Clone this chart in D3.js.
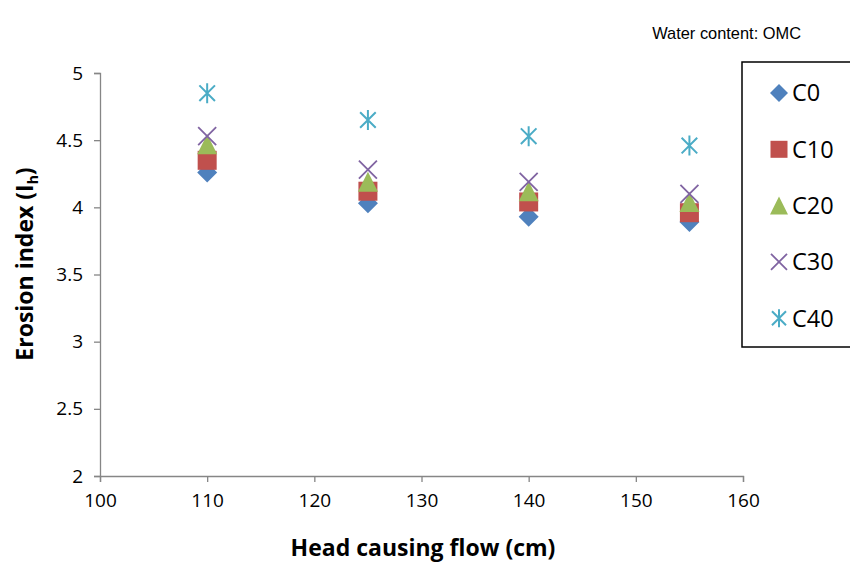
<!DOCTYPE html>
<html>
<head>
<meta charset="utf-8">
<script src="https://cdn.jsdelivr.net/npm/d3@7"></script>
<style>
  html, body { margin: 0; padding: 0; background: #fff; }
  svg { display: block; }
  .tick text { font-family: "Open Sans", sans-serif; font-size: 19px; fill: #000; }
</style>
</head>
<body>
<svg id="chart" width="850" height="563"></svg>
<script>
// Head causing flow (cm)
const heads = [110, 125, 140, 155];
// Erosion index per cement content
const c0  = [4.26, 4.03, 3.93, 3.89];
const c10 = [4.35, 4.12, 4.04, 3.96];
const c20 = [4.47, 4.19, 4.12, 4.04];
const c30 = [4.53, 4.28, 4.19, 4.10];
const c40 = [4.85, 4.65, 4.53, 4.46];
const seriesNames = ["C0", "C10", "C20", "C30", "C40"];
const xTicks = [100, 110, 120, 130, 140, 150, 160];
const yTicks = [2, 2.5, 3, 3.5, 4, 4.5, 5];

const colors = ["#4F81BD", "#C0504D", "#9BBB59", "#8064A2", "#4BACC6"];
const shapes = ["diamond", "square", "triangle", "cross", "star"];
const series = [c0, c10, c20, c30, c40].map((vals, i) => ({
  name: seriesNames[i], color: colors[i], shape: shapes[i],
  points: vals.map((v, j) => ({ x: heads[j], y: v }))
}));

const svg = d3.select("#chart");
const m = { left: 100, right: 743, top: 73, bottom: 476 };
const x = d3.scaleLinear().domain([100, 160]).range([m.left, m.right]);
const y = d3.scaleLinear().domain([2, 5]).range([m.bottom, m.top]);

// Marker drawing in an Excel-like box of side s
function marker(g, shape, color, s) {
  const h = s / 2;
  if (shape === "diamond") {
    g.append("path").attr("d", `M0,${-h}L${h},0L0,${h}L${-h},0Z`).attr("fill", color);
  } else if (shape === "square") {
    const q = h - 0.5;
    g.append("rect").attr("x", -q).attr("y", -q).attr("width", 2 * q).attr("height", 2 * q).attr("fill", color);
  } else if (shape === "triangle") {
    g.append("path").attr("d", `M0,${-h}L${h},${h}L${-h},${h}Z`).attr("fill", color);
  } else if (shape === "cross") {
    const c = h - 1;
    g.append("path").attr("d", `M${-c},${-c}L${c},${c}M${c},${-c}L${-c},${c}`)
      .attr("stroke", color).attr("stroke-width", 1.8).attr("fill", "none");
  } else if (shape === "star") {
    const c = h;
    const d = c * 0.78;
    g.append("path").attr("d", `M${-d},${-d}L${d},${d}M${d},${-d}L${-d},${d}M0,${-c}L0,${c}`)
      .attr("stroke", color).attr("stroke-width", 2).attr("fill", "none");
  }
}

// Axes
const axisColor = "#868686";
const gx = svg.append("g").attr("transform", `translate(0,${m.bottom})`)
  .call(d3.axisBottom(x).tickValues(xTicks).tickSize(6).tickPadding(9).tickFormat(d3.format("d")));
const gy = svg.append("g").attr("transform", `translate(${m.left},0)`)
  .call(d3.axisLeft(y).tickValues(yTicks).tickSize(6).tickPadding(11).tickFormat(d => String(d)));
[gx, gy].forEach(g => {
  g.select(".domain").attr("stroke", axisColor).attr("stroke-width", 1.3);
  g.selectAll(".tick line").attr("stroke", axisColor).attr("stroke-width", 1.3);
});
gx.selectAll(".tick text").attr("dy", "0.85em");

// Points
series.forEach(s => {
  s.points.forEach(p => {
    const g = svg.append("g").attr("transform", `translate(${x(p.x)},${y(p.y)})`);
    marker(g, s.shape, s.color, 20);
  });
});

// Axis titles
svg.append("text")
  .attr("x", 423).attr("y", 556)
  .attr("text-anchor", "middle")
  .attr("font-family", "'Open Sans', sans-serif")
  .attr("font-weight", "bold").attr("font-size", 23)
  .text("Head causing flow (cm)");

const yt = svg.append("text")
  .attr("transform", `translate(33,264) rotate(-90)`)
  .attr("text-anchor", "middle")
  .attr("font-family", "'Open Sans', sans-serif")
  .attr("font-weight", "bold").attr("font-size", 23);
yt.append("tspan").text("Erosion index (I");
yt.append("tspan").attr("font-size", 14).attr("dy", 5).text("h");
yt.append("tspan").attr("dy", -5).text(")");

// Caption at top right
svg.append("text")
  .attr("x", 801).attr("y", 39)
  .attr("text-anchor", "end")
  .attr("font-family", "'Liberation Sans', Arial, sans-serif")
  .attr("font-size", 16.4)
  .text("Water content: OMC");

// Legend
const lg = svg.append("g");
lg.append("rect").attr("x", 742).attr("y", 62).attr("width", 120).attr("height", 285)
  .attr("fill", "#fff").attr("stroke", "#000").attr("stroke-width", 1.5);
series.forEach((s, i) => {
  const cy = 93 + i * 56.3;
  const g = lg.append("g").attr("transform", `translate(779,${cy})`);
  marker(g, s.shape, s.color, 18);
  lg.append("text").attr("x", 792).attr("y", cy).attr("dy", "0.36em")
    .attr("font-family", "'Open Sans', sans-serif")
    .attr("font-size", 23.5).text(s.name);
});
</script>
</body>
</html>
